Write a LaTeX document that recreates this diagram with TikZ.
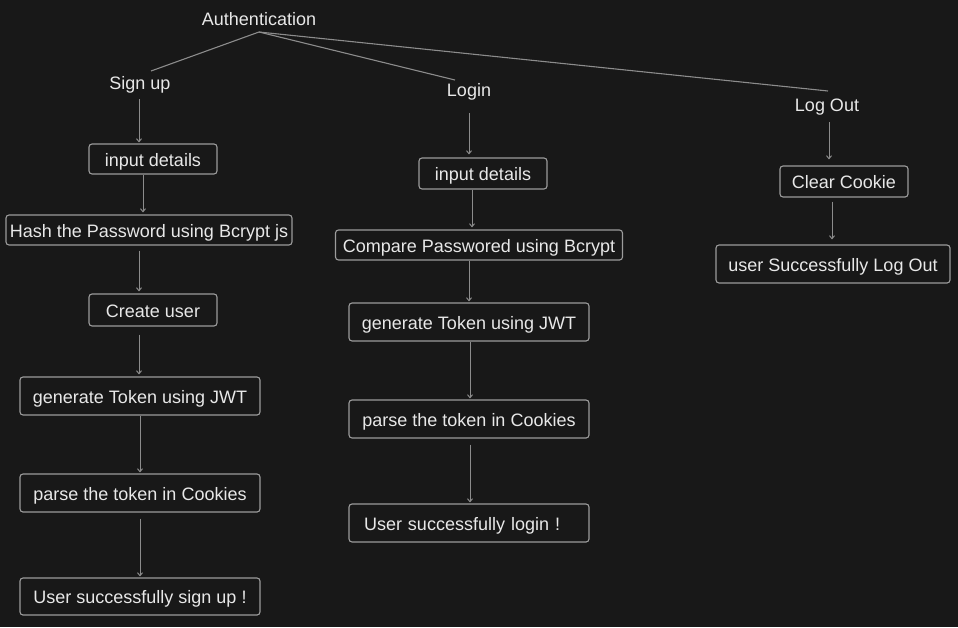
\documentclass[tikz,border=0pt]{standalone}
\usepackage{fontspec}
\setmainfont{Liberation Sans}
\usetikzlibrary{calc,arrows.meta}
\definecolor{bgc}{HTML}{181818}
\definecolor{txtc}{HTML}{E8E8E8}
\definecolor{linec}{HTML}{8C8C8C}
\definecolor{boxc}{HTML}{9C9C9C}
\tikzset{
  lbl/.style={text=txtc,font=\fontsize{18}{21}\selectfont,inner sep=0pt},
  bx/.style={draw=boxc,line width=1.1pt,rounded corners=3pt,text=txtc,
    font=\fontsize{18}{21}\selectfont,inner xsep=0pt,inner ysep=0pt,
    text height=18pt,text depth=4pt,minimum width=#1},
  conn/.style={draw=linec,line width=1.1pt},
  arr/.style={draw=linec,line width=1pt,-{Straight Barb[length=3pt,width=5pt]}}
}
\begin{document}
\begin{tikzpicture}[x=1pt,y=-1pt]
\fill[bgc] (0,0) rectangle (958,627);
\useasboundingbox (0,0) rectangle (958,627);
% labels
\node[lbl] (auth) at (259,19) {Authentication};
\node[lbl] (signup) at (140,85) {Sign up};
\node[lbl] (login) at (469,92) {Login};
\node[lbl] (logout) at (827,107) {Log Out};
% sign up column
\node[bx=128pt,minimum height=30pt] (in1) at (153,159) {input details};
\node[bx=286pt,minimum height=30pt] (hash) at (149,230) {Hash the Password using Bcrypt js};
\node[bx=128pt,minimum height=32pt] (create) at (153,310) {Create user};
\node[bx=240pt,minimum height=38pt] (gen1) at (140,396) {generate Token using JWT};
\node[bx=240pt,minimum height=38pt] (parse1) at (140,493) {parse the token in Cookies};
\node[bx=240pt,minimum height=37pt] (done1) at (140,596.5) {User successfully sign up !};
% login column
\node[bx=128pt,minimum height=31pt] (in2) at (483,173.5) {input details};
\node[bx=287pt,minimum height=30pt] (cmp) at (479,245) {Compare Passwored using Bcrypt};
\node[bx=240pt,minimum height=38pt] (gen2) at (469,322) {generate Token using JWT};
\node[bx=240pt,minimum height=38pt] (parse2) at (469,419) {parse the token in Cookies};
\node[bx=240pt,minimum height=38pt,text width=210pt,align=left,inner xsep=15pt] (done2) at (469,523) {User successfully login !};
% log out column
\node[bx=128pt,minimum height=31pt] (clr) at (844,181.5) {Clear Cookie};
\node[bx=234pt,minimum height=38pt] (lo) at (833,264) {user Successfully Log Out};
% top connectors
\coordinate (apex) at ($(auth.center)+(0,13)$);
\draw[conn] (apex) -- ($(signup.center)+(11,-14)$);
\draw[conn] (apex) -- ($(login.center)+(-14,-12)$);
\draw[conn] (apex) -- ($(logout.center)+(1,-16)$);
% arrows sign up
\draw[arr] ($(signup.center)+(-1,14)$) -- ($(in1.north)+(-14,-1)$);
\draw[arr] ($(in1.south)+(-10,0)$) -- ($(hash.north)+(-6,-2)$);
\draw[arr] ($(hash.south)+(-10,5)$) -- ($(create.north)+(-14,-2)$);
\draw[arr] ($(create.south)+(-14,8)$) -- ($(gen1.north)+(-1,-2)$);
\draw[arr] ($(gen1.south)+(0,0)$) -- ($(parse1.north)+(0,-1)$);
\draw[arr] ($(parse1.south)+(0,6)$) -- ($(done1.north)+(0,-1)$);
% arrows login
\draw[arr] ($(login.center)+(0,21)$) -- ($(in2.north)+(-14,-3)$);
\draw[arr] ($(in2.south)+(-11,0)$) -- ($(cmp.north)+(-7,-2)$);
\draw[arr] ($(cmp.south)+(-10,0)$) -- ($(gen2.north)+(0,-1)$);
\draw[arr] ($(gen2.south)+(1,0)$) -- ($(parse2.north)+(1,-1)$);
\draw[arr] ($(parse2.south)+(1,6)$) -- ($(done2.north)+(1,-1)$);
% arrows log out
\draw[arr] ($(logout.center)+(2,15)$) -- ($(clr.north)+(-15,-6)$);
\draw[arr] ($(clr.south)+(-12,4)$) -- ($(lo.north)+(-1,-5)$);
\end{tikzpicture}
\end{document}
